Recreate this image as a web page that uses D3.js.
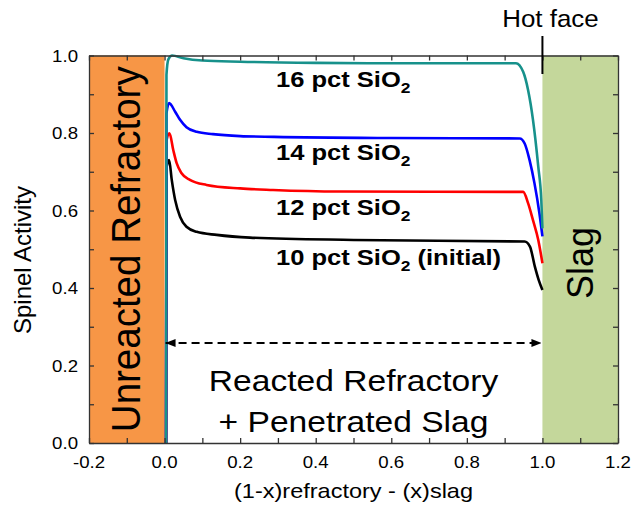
<!DOCTYPE html>
<html lang="en">
<head>
<meta charset="UTF-8">
<title>Spinel Activity</title>
<script src="https://unpkg.com/d3@7.8.5/dist/d3.min.js"></script>
<style>
    * { margin: 0; padding: 0; box-sizing: border-box; }
    body { background: #fff; }
    svg { display: block; font-family: Arial, "Liberation Sans", sans-serif; }
</style>
</head>
<body>
<svg class="cc" width="633" height="507"></svg>
<script>
    // 数据
    const xTicks = [-0.2, 0.0, 0.2, 0.4, 0.6, 0.8, 1.0, 1.2]
    const yTicks = [0.0, 0.2, 0.4, 0.6, 0.8, 1.0]

    const zones = [
        { name: 'Unreacted Refractory', x0: -0.2, x1: 0.0, color: '#F79646' },
        { name: 'Slag', x0: 1.0, x1: 1.2, color: '#C4D79B' }
    ]

    const pct16 = [[0.004, 0], [0.005, 0.95], [0.01, 0.99], [0.02, 1.0], [0.05, 0.993], [0.1, 0.987],
        [0.2, 0.984], [0.4, 0.981], [0.6, 0.98], [0.8, 0.98], [0.93, 0.98], [0.949, 0.958],
        [0.962, 0.911], [0.975, 0.834], [0.989, 0.713], [0.997, 0.627], [1.0, 0.554]]
    const pct14 = [[0.004, 0], [0.005, 0.85], [0.012, 0.877], [0.028, 0.855], [0.041, 0.834], [0.058, 0.815],
        [0.085, 0.803], [0.128, 0.797], [0.2, 0.792], [0.29, 0.79], [0.6, 0.787], [0.94, 0.786],
        [0.953, 0.773], [0.966, 0.73], [0.979, 0.67], [0.992, 0.593], [1.0, 0.533]]
    const pct12 = [[0.004, 0], [0.005, 0.78], [0.013, 0.799], [0.023, 0.756], [0.032, 0.722], [0.045, 0.696],
        [0.067, 0.679], [0.111, 0.666], [0.2, 0.657], [0.287, 0.653], [0.464, 0.649], [0.949, 0.648],
        [0.962, 0.619], [0.975, 0.575], [0.989, 0.524], [1.0, 0.464]]
    const pct10 = [[0.004, 0], [0.005, 0.71], [0.012, 0.73], [0.019, 0.679], [0.028, 0.627], [0.041, 0.584],
        [0.058, 0.558], [0.085, 0.545], [0.138, 0.537], [0.226, 0.53], [0.5, 0.524], [0.953, 0.52],
        [0.967, 0.507], [0.98, 0.455], [0.99, 0.421], [1.0, 0.395]]

    // 绘制顺序: 黑 -> 红 -> 蓝 -> 青
    const series = [
        { label: '10 pct SiO', tail: ' (initial)', values: pct10, color: '#000000', ly: 265 },
        { label: '12 pct SiO', tail: '', values: pct12, color: '#FF0000', ly: 215 },
        { label: '14 pct SiO', tail: '', values: pct14, color: '#0000FF', ly: 160 },
        { label: '16 pct SiO', tail: '', values: pct16, color: '#17918B', ly: 87 }
    ]

    const margin = { top: 55.5, right: 15, bottom: 64, left: 89 }
    const width = 633, height = 507
    const svg = d3.select('svg')

    const x = d3.scaleLinear().domain([-0.2, 1.2]).range([margin.left, width - margin.right])
    const y = d3.scaleLinear().domain([0, 1]).range([height - margin.bottom, margin.top])

    // 横向拉伸文字 (原图文字略宽)
    function addText(px, py, size, sx, str, opts = {}) {
        const rot = opts.rotate ? ' rotate(-90)' : ''
        return svg.append('text')
            .attr('transform', `translate(${px},${py}) scale(${sx},1)${rot}`)
            .attr('text-anchor', opts.anchor || 'middle')
            .attr('font-size', size)
            .attr('font-weight', opts.bold ? 'bold' : null)
            .text(str)
    }

    // 区域背景
    svg.selectAll('.zone').data(zones).enter().append('rect')
        .attr('class', 'zone')
        .attr('x', d => x(d.x0))
        .attr('y', y(1))
        .attr('width', d => x(d.x1) - x(d.x0))
        .attr('height', y(0) - y(1))
        .attr('fill', d => d.color)

    // 曲线
    const line = d3.line()
        .x(d => x(d[0]))
        .y(d => y(d[1]))
        .curve(d3.curveMonotoneX)

    svg.selectAll('.curve').data(series).enter().append('path')
        .attr('class', 'curve')
        .attr('d', d => line(d.values))
        .attr('fill', 'none')
        .attr('stroke', d => d.color)
        .attr('stroke-width', 2.6)
        .attr('stroke-linejoin', 'round')

    // 坐标轴 (刻度向内, 四边)
    const minorX = d3.range(-0.2, 1.21, 0.1)
    const minorY = d3.range(0, 1.01, 0.1)
    const fmt = v => d3.format('.1f')(v).replace('\u2212', '-')

    svg.append('g').attr('transform', `translate(0,${y(0)})`)
        .call(d3.axisBottom(x).tickValues(minorX).tickSizeInner(-5).tickSizeOuter(0).tickFormat(''))
    svg.append('g').attr('transform', `translate(0,${y(1)})`)
        .call(d3.axisTop(x).tickValues(minorX).tickSizeInner(-5).tickSizeOuter(0).tickFormat(''))
    svg.append('g').attr('transform', `translate(${x(-0.2)},0)`)
        .call(d3.axisLeft(y).tickValues(minorY).tickSizeInner(-5).tickSizeOuter(0).tickFormat(''))
    svg.append('g').attr('transform', `translate(${x(1.2)},0)`)
        .call(d3.axisRight(y).tickValues(minorY).tickSizeInner(-5).tickSizeOuter(0).tickFormat(''))
    svg.selectAll('.domain, .tick line').attr('stroke', '#333').attr('stroke-width', 1.3)

    // 刻度标签
    xTicks.forEach(d => addText(x(d), y(0) + 25, 16.5, 1.13, fmt(d)))
    yTicks.forEach(d => addText(x(-0.2) - 11, y(d) + 6, 16.5, 1.13, fmt(d), { anchor: 'end' }))

    // 轴标题
    addText((x(-0.2) + x(1.2)) / 2, 498, 21, 1.12, '(1-x)refractory - (x)slag')
    addText(31, 260, 24, 1, 'Spinel Activity', { rotate: true })

    // 区域文字
    addText((x(-0.2) + x(0)) / 2 + 13, (y(0) + y(1)) / 2, 38.5, 1.05, zones[0].name, { rotate: true })
    addText((x(1) + x(1.2)) / 2 + 13, 263, 36, 1.05, zones[1].name, { rotate: true })

    // 曲线标签
    series.forEach(d => {
        const t = addText(276, d.ly, 22, 1.16, '', { anchor: 'start', bold: true })
        t.append('tspan').text(d.label)
        t.append('tspan').attr('dy', 6).attr('font-size', 15).text('2')
        t.append('tspan').attr('dy', -6).text(d.tail)
    })

    // 双向虚线箭头
    svg.append('defs').selectAll('marker').data(['s', 'e']).enter().append('marker')
        .attr('id', d => 'arr-' + d)
        .attr('viewBox', '0 0 10 10').attr('refX', 10).attr('refY', 5)
        .attr('markerWidth', 10).attr('markerHeight', 10)
        .attr('markerUnits', 'userSpaceOnUse')
        .attr('orient', 'auto-start-reverse')
        .append('path').attr('d', 'M0,1 L10,5 L0,9 Z').attr('fill', '#000')
    svg.append('line')
        .attr('x1', x(0) + 1).attr('x2', x(1) - 1)
        .attr('y1', 343).attr('y2', 343)
        .attr('stroke', '#000').attr('stroke-width', 2)
        .attr('stroke-dasharray', '8,5')
        .attr('marker-start', 'url(#arr-s)')
        .attr('marker-end', 'url(#arr-e)')

    addText((x(0) + x(1)) / 2, 391, 30, 1.12, 'Reacted Refractory')
    addText((x(0) + x(1)) / 2, 432, 30, 1.12, '+ Penetrated Slag')

    // Hot face
    svg.append('line')
        .attr('x1', x(1)).attr('x2', x(1))
        .attr('y1', 36).attr('y2', 74)
        .attr('stroke', '#000').attr('stroke-width', 2)
    addText(x(1) + 8, 27, 24, 1.08, 'Hot face')
</script>
</body>
</html>
